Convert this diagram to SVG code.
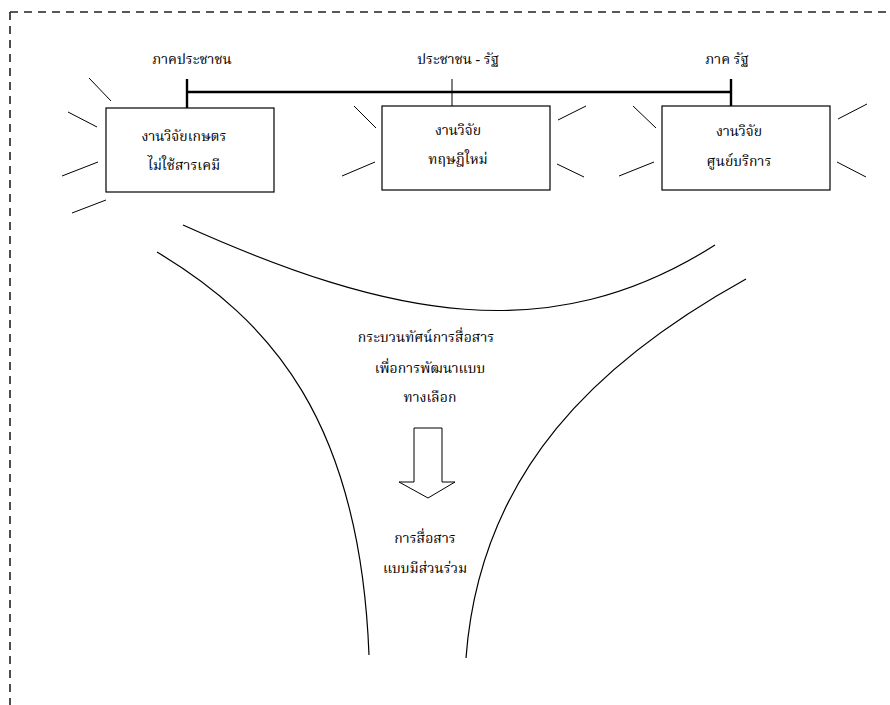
<svg xmlns="http://www.w3.org/2000/svg" width="890" height="705" viewBox="0 0 890 705">
  <style>
    .frame { fill: none; stroke: #222; stroke-width: 1.6; stroke-dasharray: 8 6; }
    .box { fill: #fff; stroke: #000; stroke-width: 1.2; }
    .ray { stroke: #000; stroke-width: 1; fill: none; }
    .bar { stroke: #000; stroke-width: 2.4; fill: none; }
    .tick { stroke: #000; stroke-width: 1; fill: none; }
    .curve { stroke: #000; stroke-width: 1.2; fill: none; }
    .arrow { fill: #fff; stroke: #000; stroke-width: 1; }
    text { font-family: "Liberation Serif", "Noto Serif Thai", "Noto Sans Thai", serif; font-size: 14px; fill: #000; text-anchor: middle; }
  </style>
  <rect width="890" height="705" fill="#fff"/>

  <!-- outer dashed frame -->
  <path class="frame" d="M10,12 H890 M10,12 V705"/>

  <!-- sector labels -->
  <g id="labels">
    <text x="192" y="64">ภาคประชาชน</text>
    <text x="458" y="64">ประชาชน - รัฐ</text>
    <text x="727" y="64">ภาค รัฐ</text>
  </g>

  <!-- connectors: sector bar and ticks -->
  <g id="connectors">
    <path class="bar" d="M187,92 H731"/>
    <path class="bar" d="M187,79 V108"/>
    <path class="bar" d="M731,79 V106"/>
    <path class="tick" d="M452,79 V106"/>
  </g>

  <!-- research box: non-chemical agriculture -->
  <g id="node-agri">
    <path class="ray" d="M89,78 L111,101 M68,112 L97,127 M62,176 L98,162 M72,213 L106,200"/>
    <rect class="box" x="106" y="108" width="168" height="84"/>
    <text x="184" y="141">งานวิจัยเกษตร</text>
    <text x="184" y="170">ไม่ใช้สารเคมี</text>
  </g>

  <!-- research box: new theory -->
  <g id="node-theory">
    <path class="ray" d="M354,106 L376,128 M342,176 L375,162 M558,120 L586,106 M557,164 L584,177"/>
    <rect class="box" x="382" y="106" width="168" height="84"/>
    <text x="458" y="135">งานวิจัย</text>
    <text x="458" y="164">ทฤษฎีใหม่</text>
  </g>

  <!-- research box: service centre -->
  <g id="node-service">
    <path class="ray" d="M633,106 L656,128 M619,176 L654,162 M838,119 L867,104 M837,162 L866,177"/>
    <rect class="box" x="662" y="106" width="168" height="84"/>
    <text x="739" y="136">งานวิจัย</text>
    <text x="739" y="166">ศูนย์บริการ</text>
  </g>

  <!-- funnel curves -->
  <g id="funnel">
    <path class="curve" d="M183,225 C390,318 550,350 715,245"/>
    <path class="curve" d="M157,252 C270,320 360,420 369,655"/>
    <path class="curve" d="M746,279 C600,360 480,470 466,658"/>
  </g>

  <!-- paradigm text -->
  <g id="node-paradigm">
    <text x="426" y="342">กระบวนทัศน์การสื่อสาร</text>
    <text x="430" y="373">เพื่อการพัฒนาแบบ</text>
    <text x="430" y="402">ทางเลือก</text>
  </g>

  <!-- block arrow -->
  <g id="node-arrow">
    <polygon class="arrow" points="414,428 442,428 442,482 455,482 428,498 399,482 414,482"/>
  </g>

  <!-- participatory communication -->
  <g id="node-participatory">
    <text x="425" y="543">การสื่อสาร</text>
    <text x="425" y="573">แบบมีส่วนร่วม</text>
  </g>
</svg>
